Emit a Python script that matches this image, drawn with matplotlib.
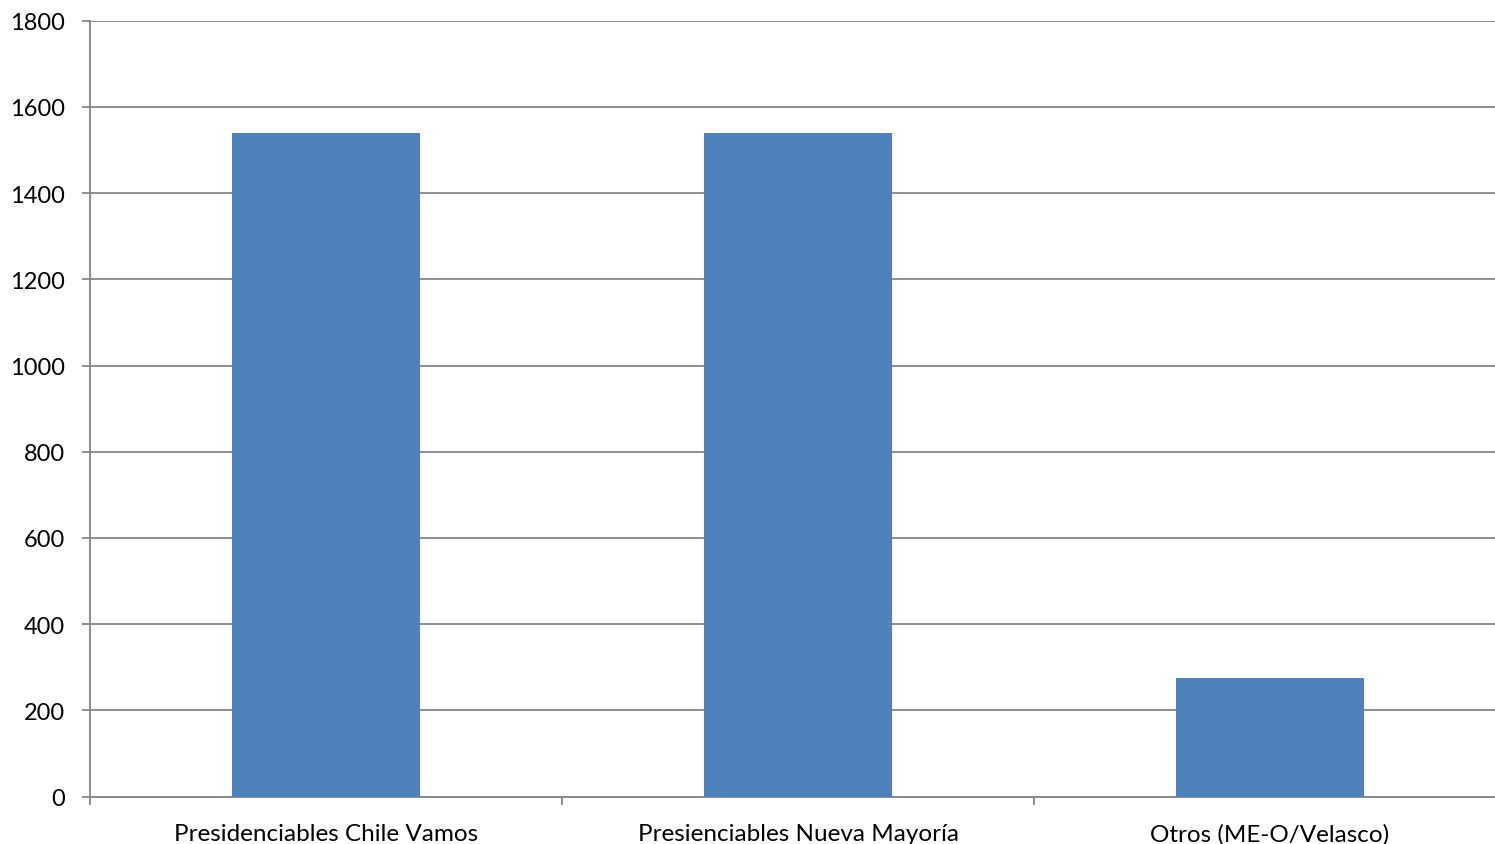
import matplotlib
matplotlib.use("Agg")
import matplotlib.pyplot as plt
import numpy as np

categories = ["Presidenciables Chile Vamos", "Presienciables Nueva Mayoría", "Otros (ME-O/Velasco)"]
values = [1540, 1540, 275]
yticks = [0, 200, 400, 600, 800, 1000, 1200, 1400, 1600, 1800]

plt.rcParams['font.family'] = ['Lato', 'DejaVu Sans']

fig = plt.figure(figsize=(14.95, 8.45), dpi=100)
ax = fig.add_axes([0.0602, 0.0562, 0.9472, 0.9181])

x = np.arange(len(categories))
ax.bar(x, values, width=0.4, color="#4F81BD", zorder=3)

gc = "#868686"
ax.set_xlim(-0.5, len(categories) - 0.5)
ax.set_ylim(0, 1800)
ax.set_yticks(yticks)
ax.set_yticklabels([str(t) for t in yticks], fontsize=17)
ax.yaxis.grid(True, color=gc, linewidth=1.3, zorder=0)
ax.set_xticks(x)
ax.set_xticklabels(categories, fontsize=17.5)
ax.tick_params(axis='x', which='major', length=0, pad=19)
ax.set_xticks(np.arange(-0.5, len(categories) - 0.5, 1.0), minor=True)
ax.tick_params(axis='x', which='minor', length=6, width=1.3, color=gc)
ax.tick_params(axis='y', length=6, width=1.3, color=gc, pad=12)

for s in ['top', 'right']:
    ax.spines[s].set_visible(False)
for s in ['left', 'bottom']:
    ax.spines[s].set_color(gc)
    ax.spines[s].set_linewidth(1.3)

fig.savefig("out.png", dpi=100)
